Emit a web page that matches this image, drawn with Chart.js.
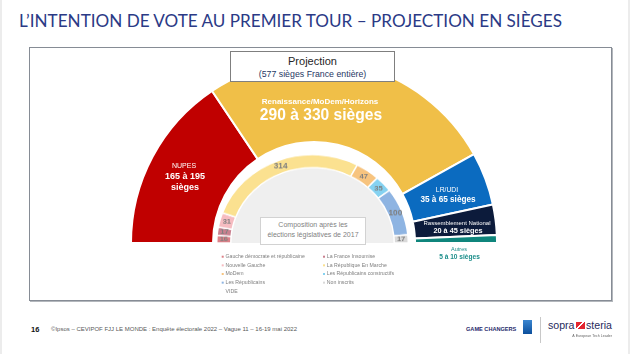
<!DOCTYPE html>
<html><head><meta charset="utf-8">
<script src="https://cdn.jsdelivr.net/npm/chart.js@4.4.1/dist/chart.umd.min.js"></script>
<style>
html,body{margin:0;padding:0;background:#fff;}
body{width:630px;height:354px;position:relative;overflow:hidden;font-family:"Liberation Sans",Arial,sans-serif;}
.abs{position:absolute;}
#edgeL{left:0;top:0;width:2px;height:354px;background:#ececec;}
#edgeR{left:628px;top:0;width:2px;height:354px;background:#ececec;}
#title{left:19px;top:12px;color:#2b3a86;font-family:Lato,"Liberation Sans",sans-serif;white-space:nowrap;line-height:1;font-size:19px;}
#frame{left:29px;top:47px;width:581px;height:252px;border:1px solid #868c95;box-shadow:1px 1px 0 #b3b7bc;z-index:0;}
#outer{left:0;top:0;z-index:1;}
#innerWrap{left:216px;top:146px;width:193px;height:98px;transform:scaleY(0.921);transform-origin:50% 96.9px;z-index:2;}
#proj{left:230px;top:51px;width:163px;height:29px;background:#fff;border:1px solid #7f7f7f;text-align:center;z-index:3;}
#proj .a{position:absolute;left:0;right:0;top:3px;font-size:11px;color:#262626;line-height:12px;}
#proj .b{position:absolute;left:0;right:0;top:17px;font-size:8.8px;color:#1f3864;line-height:10px;}
#compo{left:260px;top:217px;width:104px;height:24px;background:#fff;border:1px solid #d2d2d2;text-align:center;z-index:4;font-size:7px;color:#7f7f7f;line-height:10px;padding-top:2px;box-sizing:content-box;}
#pg{left:31px;top:325px;font-size:7.5px;font-weight:bold;color:#111;}
#src{left:51px;top:325.5px;font-size:6px;color:#595959;white-space:nowrap;}
#gc{left:466px;top:325.5px;font-size:5.6px;font-weight:bold;color:#1f2a6b;white-space:nowrap;}
#ipsos{left:523px;top:320px;width:9px;height:14px;background:linear-gradient(#3b86d0,#0c4f9c);}
#div{left:540px;top:317px;width:1px;height:26px;background:#c8c8c8;}
#sopra{left:548px;top:319px;font-size:10.6px;color:#1f2a5c;white-space:nowrap;}
#sicon{left:576px;top:322px;width:9px;height:7px;background:linear-gradient(135deg,#e3262f 0 40%,#fff 40% 55%,#e3262f 55%);}
#steria{left:586px;top:319px;font-size:10.6px;color:#1f2a5c;white-space:nowrap;}
</style></head>
<body>
<div id="edgeL" class="abs"></div><div id="edgeR" class="abs"></div>
<div id="title" class="abs">L’INTENTION DE VOTE AU PREMIER TOUR – PROJECTION EN SIÈGES</div>
<div id="frame" class="abs"></div>
<canvas id="outer" class="abs" width="630" height="354"></canvas>
<div id="innerWrap" class="abs"><canvas id="inner" width="193" height="98"></canvas></div>
<div id="proj" class="abs"><div class="a">Projection</div><div class="b">(577 sièges France entière)</div></div>
<div id="compo" class="abs">Composition après les<br>élections législatives de 2017</div>
<div id="pg" class="abs">16</div>
<div id="src" class="abs">©Ipsos – CEVIPOF FJJ LE MONDE : Enquête électorale 2022 – Vague 11 – 16-19 mai 2022</div>
<div id="gc" class="abs">GAME CHANGERS</div>
<div id="ipsos" class="abs"></div>
<div id="div" class="abs"></div>
<div id="sopra" class="abs">sopra</div><div id="sicon" class="abs"></div><div id="steria" class="abs">steria</div>
<script>
// ---- data ----
const outerParties = ['NUPES', 'Renaissance/MoDem/Horizons', 'LR/UDI', 'Rassemblement National', 'Autres'];
const outerLow = [165, 290, 35, 20, 5];
const outerHigh = [195, 330, 65, 45, 10];
const outerSeats = [180, 304, 54, 31, 8];
const innerGroups = ['Gauche démocrate et républicaine', 'La France Insoumise', 'Nouvelle Gauche', 'La République En Marche', 'MoDem', 'Les Républicains constructifs', 'Les Républicains', 'Non inscrits'];
const innerSeats2017 = [16, 17, 31, 314, 47, 35, 100, 17];
const emptyLabel = 'VIDE';

// ---- styles ----
const outerColors = ['#c00000', '#f0bf48', '#0b6bc0', '#0c1b3b', '#0f857c'];
const innerColors = ['#dc8088', '#c9808f', '#f6bcc1', '#fbe190', '#f7c47f', '#85d2f1', '#8eb4e2', '#d9d9d9'];

// title width fit
(function(){const t=document.getElementById('title');const w=t.getBoundingClientRect().width;t.style.fontSize=(19*543/w)+'px';})();

function txt(ctx, s, x, y, size, bold, color){
  ctx.font=(bold?'bold ':'')+size+'px "Liberation Sans", Arial, sans-serif';
  ctx.fillStyle=color; ctx.textAlign='center'; ctx.textBaseline='middle';
  ctx.fillText(s, x, y);
}
const rng = i => outerLow[i] + ' à ' + outerHigh[i] + ' sièges';

const outerLabels = {
  id:'outerLabels',
  afterDraw(chart){
    const c=chart.ctx; c.save();
    // NUPES
    txt(c, outerParties[0], 184, 166, 7, false, '#fff');
    txt(c, outerLow[0]+' à '+outerHigh[0], 185, 177, 9, true, '#fff');
    txt(c, 'sièges', 185, 187.5, 9, true, '#fff');
    // Ensemble
    txt(c, outerParties[1], 320, 102, 8, true, '#fff');
    txt(c, rng(1), 321, 116, 15.6, true, '#fff');
    // LR
    txt(c, outerParties[2], 447, 190, 6.8, false, '#fff');
    txt(c, rng(2), 448, 199.5, 8.2, true, '#fff');
    // RN
    txt(c, outerParties[3], 457, 223, 6, false, '#fff');
    txt(c, rng(3), 458, 231, 7.3, true, '#fff');
    // Autres
    txt(c, outerParties[4], 459, 249.5, 5.5, false, '#1b8e8a');
    txt(c, rng(4), 459.5, 257, 6.6, true, '#1b8e8a');
    // legend (2 columns, row-major)
    const items = innerGroups.concat([emptyLabel]);
    items.forEach((s,i)=>{
      const col=i%2, row=Math.floor(i/2);
      const bx = col ? 324 : 222.7, y = 256.7 + row*8.65;
      if(i<innerColors.length){ c.fillStyle=innerColors[i]; c.fillRect(bx-1, y-1, 2, 2); }
      c.font='5.2px "Liberation Sans", Arial, sans-serif'; c.fillStyle='#808080';
      c.textAlign='left'; c.textBaseline='middle';
      c.fillText(s, bx+2.8, y);
    });
    // sopra steria tagline
    c.font='3.6px "Liberation Sans", Arial, sans-serif'; c.fillStyle='#666'; c.textAlign='right';
    c.fillText('A European Tech Leader', 612, 335.5);
    c.restore();
  }
};

new Chart(document.getElementById('outer'), {
  type:'doughnut',
  data:{ labels: outerParties, datasets:[{ data: outerSeats, backgroundColor: outerColors, borderColor:'#fff', borderWidth:2 }]},
  options:{
    responsive:false, animation:false, events:[],
    rotation:-90, circumference:180, cutout:'55.2%',
    layout:{ padding:{ left:130, right:132, top:59, bottom:110 } },
    plugins:{ legend:{display:false}, tooltip:{enabled:false} }
  },
  plugins:[outerLabels]
});

const innerPlugin = {
  id:'innerPlugin',
  beforeDatasetsDraw(chart){
    const a=chart.getDatasetMeta(0).data[0]; if(!a) return;
    const c=chart.ctx; c.save();
    c.beginPath(); c.moveTo(a.x - a.innerRadius, a.y);
    c.arc(a.x, a.y, a.innerRadius, Math.PI, 2*Math.PI); c.closePath();
    c.fillStyle='#efefef'; c.fill(); c.restore();
  },
  afterDatasetsDraw(chart){
    const c=chart.ctx; c.save();
    chart.getDatasetMeta(0).data.forEach((a,i)=>{
      const ang=(a.startAngle+a.endAngle)/2, r=(a.innerRadius+a.outerRadius)/2;
      const v=innerSeats2017[i];
      txt(c, String(v), a.x + r*Math.cos(ang), a.y + r*Math.sin(ang), v>=100?8.2:7.6, true, '#7f7f7f');
    });
    c.restore();
  }
};

new Chart(document.getElementById('inner'), {
  type:'doughnut',
  data:{ labels: innerGroups, datasets:[{ data: innerSeats2017, backgroundColor: innerColors, borderColor:'#fff', borderWidth:1.5 }]},
  options:{
    responsive:false, animation:false, events:[],
    rotation:-90, circumference:180, cutout:'85.3%',
    plugins:{ legend:{display:false}, tooltip:{enabled:false} }
  },
  plugins:[innerPlugin]
});
</script>
</body></html>
